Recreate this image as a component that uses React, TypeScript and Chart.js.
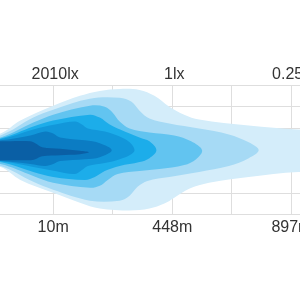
import React, { useEffect, useRef } from "react";
import { Chart, registerables } from "chart.js";

Chart.register(...registerables);

// x: distance units (60 per grid step, 0 at the "10m" line); y: lateral units (22 per grid step)
const bottomTickLabels = ["10m", "", "448m", "", "897m"];
const topTickLabels = ["2010lx", "", "1lx", "", "0.25lx"];
const tickValues = [0, 60, 120, 180, 240];

const bandColors = ["#0a5fa5", "#0b7cc3", "#1297da", "#1cadea", "#62c4f0", "#a6daf5", "#d4edfa"];

const darkestBand: number[][] = [
  [-73, 9], [-53, 9], [-23, 9], [-18, 7], [-11, 3], [7, 1.5], [27, -0.5], [36, -2],
  [27, -4], [7, -5], [-11, -6], [-18, -9], [-23, -10], [-53, -10], [-73, -10],
];
const darkBand: number[][] = [
  [-73, 10], [-53, 10], [-23, 15], [-8, 19], [0, 17], [7, 13], [32, 10], [47, 7], [59, 0],
  [47, -7], [32, -9], [7, -11], [0, -14], [-8, -16], [-23, -14], [-53, -11], [-73, -11],
];
const deepBand: number[][] = [
  [-73, 11], [-53, 11], [-20, 21], [2, 26], [22, 29], [29, 26], [35, 22], [52, 19], [67, 14], [77, 8], [82, 0],
  [77, -5], [67, -9], [52, -13], [35, -16], [29, -20], [22, -24], [2, -21], [-20, -17], [-53, -11], [-73, -11],
];
const brightBand: number[][] = [
  [-73, 12], [-53, 12], [-20, 24], [0, 30], [37, 36], [47, 33], [57, 26], [72, 19], [87, 13], [97, 9], [104, 0],
  [97, -8], [87, -12], [67, -16], [52, -21], [42, -27], [32, -30], [0, -27], [-20, -22], [-53, -12], [-73, -12],
];
const mediumBand: number[][] = [
  [-73, 13], [-53, 13], [-20, 28], [0, 36], [37, 45], [52, 44], [60, 38], [67, 29], [77, 22], [97, 18], [122, 15], [139, 9], [150, 0],
  [144, -9], [132, -15], [107, -19], [87, -21], [65, -24], [55, -30], [47, -36], [37, -38], [0, -33], [-20, -26], [-53, -14], [-73, -14],
];
const lightBand: number[][] = [
  [-73, 15], [-53, 15], [-20, 33], [0, 41], [37, 52], [67, 53], [79, 49], [87, 40], [97, 32], [117, 27], [147, 22], [177, 16], [197, 8], [207, 0],
  [197, -8], [177, -16], [147, -22], [117, -27], [95, -31], [85, -37], [77, -46], [67, -51], [37, -51], [0, -40], [-20, -32], [-53, -16], [-73, -16],
];
const paleBand: number[][] = [
  [-73, 16], [-53, 17], [-33, 30], [0, 45], [27, 55], [47, 60], [67, 62], [87, 61], [102, 55], [117, 44], [132, 36], [147, 31], [197, 25], [247, 21], [300, 20], [330, 19],
  [330, -21], [300, -22], [247, -22], [197, -27], [157, -33], [137, -39], [122, -48], [112, -54], [97, -59], [77, -61], [47, -59], [27, -53], [0, -43], [-33, -30], [-53, -17], [-73, -17],
];

const bands = [darkestBand, darkBand, deepBand, brightBand, mediumBand, lightBand, paleBand];

const GRID = "#dedede";
const TEXT = "#333333";
const FONT = { family: "'Liberation Sans', Arial, sans-serif", size: 16 };

export default function App() {
  const ref = useRef<HTMLCanvasElement | null>(null);
  useEffect(() => {
    if (!ref.current) return;
    const labelFor = (labels: string[]) => (v: any) => {
      const i = tickValues.indexOf(Number(v));
      return i >= 0 ? labels[i] : "";
    };
    const gridTicks = (s: any) => {
      s.ticks = tickValues.map((value) => ({ value }));
    };
    const chart = new Chart(ref.current, {
      type: "scatter",
      data: {
        datasets: bands.map((b, i) => ({
          data: b.map(([x, y]) => ({ x, y })),
          showLine: true,
          fill: "shape",
          backgroundColor: bandColors[i],
          borderWidth: 0,
          borderColor: "rgba(0,0,0,0)",
          pointRadius: 0,
          tension: 0.35,
        })),
      },
      options: {
        animation: false,
        responsive: false,
        events: [],
        plugins: { legend: { display: false }, tooltip: { enabled: false } },
        layout: { padding: { top: 63.8, bottom: 58.8, left: 0, right: 0 }, autoPadding: false },
        scales: {
          x: {
            type: "linear",
            position: "bottom",
            min: -120,
            max: 300,
            afterBuildTicks: gridTicks,
            ticks: {
              callback: labelFor(bottomTickLabels),
              font: FONT,
              color: TEXT,
              padding: 4,
              maxRotation: 0,
              autoSkip: false,
            },
            grid: { color: GRID, drawTicks: false, lineWidth: 1 },
            border: { color: GRID },
          },
          x2: {
            type: "linear",
            position: "top",
            min: -120,
            max: 300,
            afterBuildTicks: gridTicks,
            ticks: {
              callback: labelFor(topTickLabels),
              font: FONT,
              color: TEXT,
              padding: 1,
              labelOffset: 2,
              maxRotation: 0,
              autoSkip: false,
            },
            grid: { display: false, drawTicks: false },
            border: { display: false },
          },
          y: {
            type: "linear",
            min: -64.5,
            max: 66,
            ticks: { display: false, stepSize: 22 },
            grid: { color: GRID, drawTicks: false, lineWidth: 1 },
            border: { display: false },
          },
        },
      },
    } as any);
    return () => chart.destroy();
  }, []);
  return (
    <div style={{ position: "fixed", left: 0, top: 0, width: 300, height: 300, overflow: "hidden", background: "#fff" }}>
      <canvas ref={ref} width={417} height={300} style={{ position: "absolute", left: -66, top: 0, width: 417, height: 300 }} />
    </div>
  );
}
